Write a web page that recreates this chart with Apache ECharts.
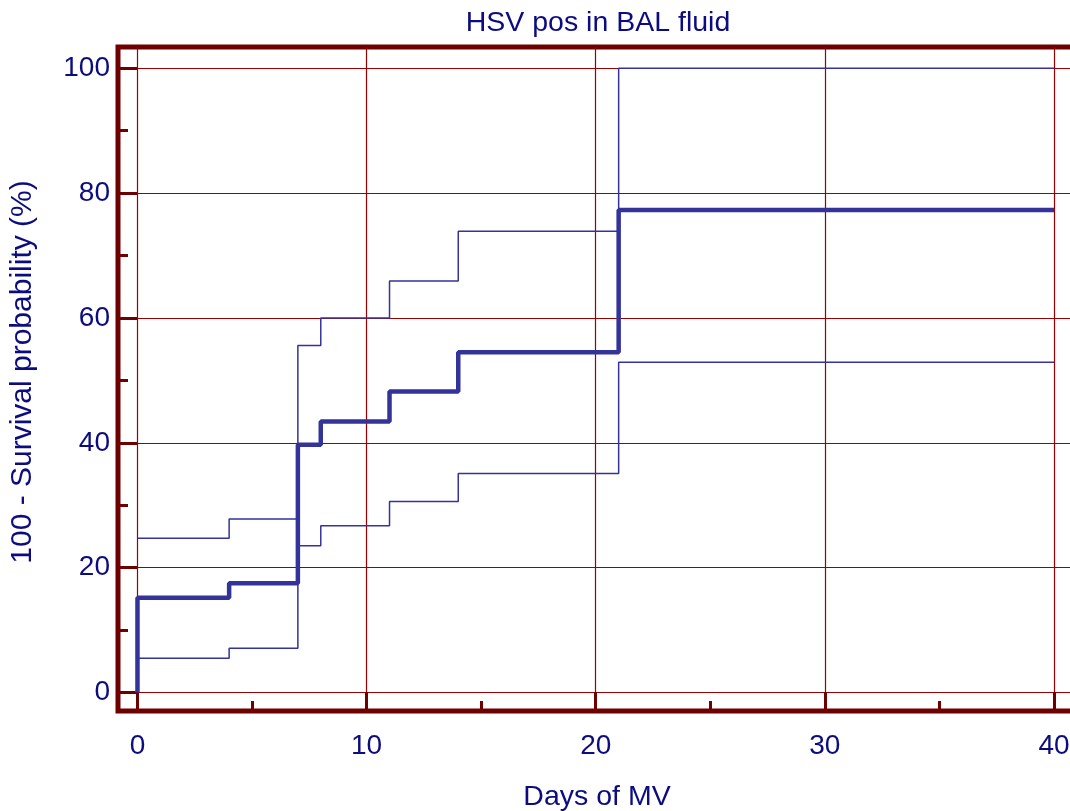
<!DOCTYPE html>
<html>
<head>
<meta charset="utf-8">
<script src="https://cdn.jsdelivr.net/npm/echarts@6/dist/echarts.min.js"></script>
<style>
  html, body { margin: 0; padding: 0; background: #fff; }
  #chart { width: 1070px; height: 811px; }
</style>
</head>
<body>
<div id="chart"></div>
<script>
  // event days and Kaplan-Meier style values (100 - survival %)
  const days = [0, 4, 7, 8, 11, 14, 21, 40];
  const estimate = [15.2, 17.5, 39.7, 43.4, 48.2, 54.5, 77.3, 77.3];
  const upperCI = [24.7, 27.8, 55.6, 60.0, 65.9, 73.9, 100, 100];
  const lowerCI = [5.5, 7.1, 23.5, 26.7, 30.6, 35.1, 52.9, 52.9];

  // tick labels
  const xTicks = [0, 10, 20, 30, 40];
  const xMinor = [5, 15, 25, 35];
  const yTicks = [0, 20, 40, 60, 80, 100];
  const yMinor = [10, 30, 50, 70, 90];

  const textColor = "#0c0c80";
  const frameColor = "#6e0000";
  const gridColor = "#9a0000";
  const lineColor = "#333399";
  const font = "Liberation Sans";

  const toPairs = (vals) => days.map((d, i) => [d, vals[i]]);

  const chart = echarts.init(document.getElementById("chart"));

  const baseX = {
    type: "value",
    min: -0.85,
    max: 40.96,
    position: "bottom",
    axisLine: { show: false, onZero: false }
  };
  const baseY = {
    type: "value",
    min: -2.96,
    max: 103.4,
    position: "left",
    axisLine: { show: false, onZero: false }
  };

  const option = {
    animation: false,
    title: {
      text: "HSV pos in BAL fluid",
      left: 593,
      textAlign: "center",
      top: 4,
      textStyle: { color: textColor, fontSize: 28.5, fontWeight: "normal", fontFamily: font }
    },
    grid: {
      left: 118,
      top: 47,
      bottom: 100,
      right: -6,
      outerBoundsMode: "none",
      containLabel: false,
      show: true,
      borderColor: frameColor,
      borderWidth: 5,
      backgroundColor: "#fff"
    },
    xAxis: [
      Object.assign({}, baseX, {
        name: "Days of MV",
        nameLocation: "middle",
        nameGap: 72,
        nameTextStyle: { color: textColor, fontSize: 28.5, fontFamily: font },
        axisTick: { inside: true, length: 19, customValues: xTicks, lineStyle: { color: frameColor, width: 3 } },
        axisLabel: { customValues: xTicks, color: textColor, fontSize: 28, fontFamily: font, margin: 21 },
        splitLine: { show: true, lineStyle: { color: gridColor, width: 1.2 } }
      }),
      Object.assign({}, baseX, {
        axisTick: { inside: true, length: 10, customValues: xMinor, lineStyle: { color: frameColor, width: 3 } },
        axisLabel: { show: false },
        splitLine: { show: false }
      })
    ],
    yAxis: [
      Object.assign({}, baseY, {
        name: "100 - Survival probability (%)",
        nameLocation: "middle",
        nameGap: 80,
        nameTextStyle: { color: textColor, fontSize: 30, fontFamily: font, padding: [0, 0, 0, 14] },
        axisTick: { inside: true, length: 19, customValues: yTicks, lineStyle: { color: frameColor, width: 3 } },
        axisLabel: { customValues: yTicks, color: textColor, fontSize: 28, fontFamily: font, margin: 8 },
        splitLine: { show: true, lineStyle: { color: gridColor, width: 1.2 } }
      }),
      Object.assign({}, baseY, {
        axisTick: { inside: true, length: 10, customValues: yMinor, lineStyle: { color: frameColor, width: 3 } },
        axisLabel: { show: false },
        splitLine: { show: false }
      })
    ],
    series: [
      {
        name: "upper",
        type: "line",
        step: "end",
        symbol: "none",
        data: toPairs(upperCI),
        lineStyle: { color: lineColor, width: 1.5 }
      },
      {
        name: "lower",
        type: "line",
        step: "end",
        symbol: "none",
        data: toPairs(lowerCI),
        lineStyle: { color: lineColor, width: 1.5 }
      },
      {
        name: "estimate",
        type: "line",
        step: "end",
        symbol: "none",
        data: [[0, 0]].concat(toPairs(estimate)),
        lineStyle: { color: lineColor, width: 4.5 }
      }
    ]
  };
  chart.setOption(option);
</script>
</body>
</html>
